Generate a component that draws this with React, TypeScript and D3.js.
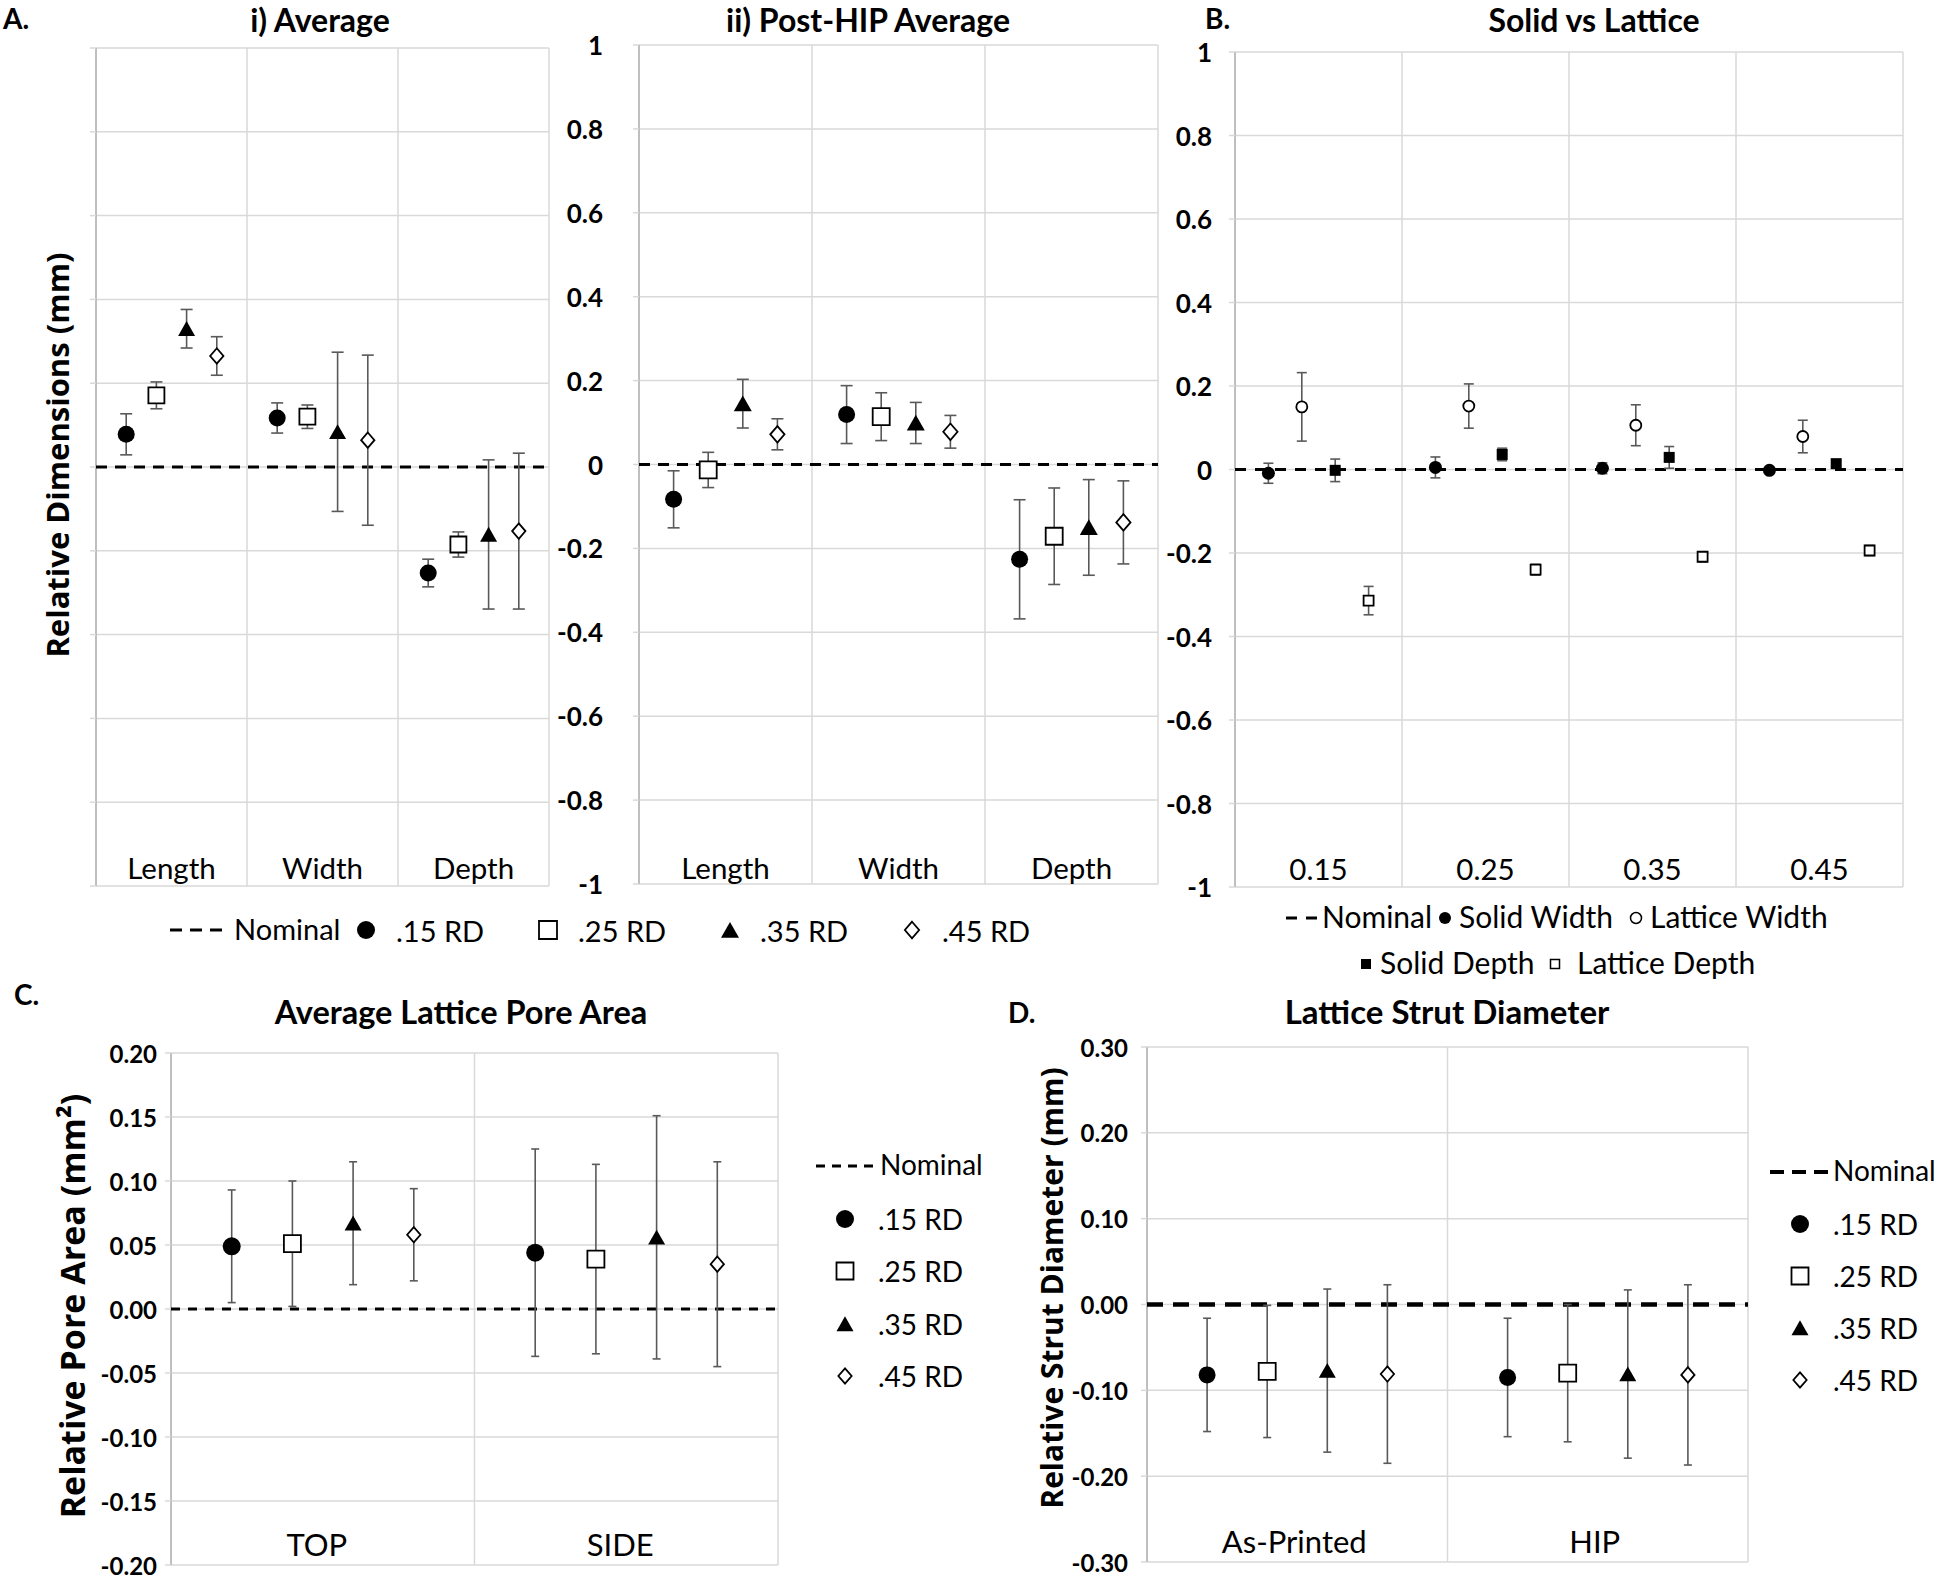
import React, { useEffect, useRef } from "react";
import * as d3 from "d3";

// ---- data ----
const rdLabels = [".15 RD", ".25 RD", ".35 RD", ".45 RD"];
const dimCats = ["Length", "Width", "Depth"];

// A i) Average
const avg15 = [0.078, 0.117, -0.253];
const avg15Err = [0.049, 0.036, 0.033];
const avg25 = [0.171, 0.12, -0.185];
const avg25Err = [0.032, 0.028, 0.03];
const avg35 = [0.33, 0.084, -0.161];
const avg35Err = [0.046, 0.19, 0.178];
const avg45 = [0.265, 0.064, -0.153];
const avg45Err = [0.046, 0.203, 0.186];

// A ii) Post-HIP Average
const hip15 = [-0.083, 0.119, -0.226];
const hip15Err = [0.068, 0.069, 0.142];
const hip25 = [-0.013, 0.114, -0.171];
const hip25Err = [0.042, 0.057, 0.115];
const hip35 = [0.145, 0.099, -0.15];
const hip35Err = [0.058, 0.049, 0.114];
const hip45 = [0.072, 0.078, -0.138];
const hip45Err = [0.037, 0.039, 0.099];

// B Solid vs Lattice
const rdCats = ["0.15", "0.25", "0.35", "0.45"];
const solidLatticeLabels = ["Solid Width", "Lattice Width", "Solid Depth", "Lattice Depth"];
const solidWidth = [-0.009, 0.005, 0.003, -0.002];
const solidWidthErr = [0.024, 0.025, 0.013, 0.005];
const latticeWidth = [0.15, 0.152, 0.106, 0.079];
const latticeWidthErr = [0.082, 0.053, 0.049, 0.039];
const solidDepth = [-0.002, 0.036, 0.029, 0.014];
const solidDepthErr = [0.027, 0.015, 0.026, 0.006];
const latticeDepth = [-0.314, -0.24, -0.209, -0.194];
const latticeDepthErr = [0.034, 0.013, 0.012, 0.012];

// C Average Lattice Pore Area
const poreCats = ["TOP", "SIDE"];
const pore15 = [0.049, 0.044];
const pore15Err = [0.044, 0.081];
const pore25 = [0.051, 0.039];
const pore25Err = [0.049, 0.074];
const pore35 = [0.067, 0.056];
const pore35Err = [0.048, 0.095];
const pore45 = [0.058, 0.035];
const pore45Err = [0.036, 0.08];

// D Lattice Strut Diameter
const strutCats = ["As-Printed", "HIP"];
const strut15 = [-0.082, -0.085];
const strut15Err = [0.066, 0.069];
const strut25 = [-0.078, -0.08];
const strut25Err = [0.077, 0.08];
const strut35 = [-0.077, -0.081];
const strut35Err = [0.095, 0.098];
const strut45 = [-0.081, -0.082];
const strut45Err = [0.104, 0.105];

const dimTicks = d3.range(-5, 6).map((i) => i / 5);
const poreTicks = d3.range(-4, 5).map((i) => i / 20);
const strutTicks = d3.range(-3, 4).map((i) => i / 10);

const FONT = "Lato, 'Open Sans', sans-serif";
const AXIS_FONT = "'Open Sans', Lato, sans-serif";
const slots = [0.2, 0.4, 0.6, 0.8];

const hyphen = (s: string) => s.replace("\u2212", "-");

const markerPath = (shape: string, s: number) => {
  const p = d3.path();
  if (shape === "circle") {
    p.moveTo(s, 0);
    p.arc(0, 0, s, 0, 2 * Math.PI);
  } else if (shape === "square") {
    p.rect(-s, -s, 2 * s, 2 * s);
  } else if (shape === "triangle") {
    p.moveTo(0, -0.9 * s);
    p.lineTo(s, 0.85 * s);
    p.lineTo(-s, 0.85 * s);
    p.closePath();
  } else {
    p.moveTo(0, -1.1 * s);
    p.lineTo(0.95 * s, 0);
    p.lineTo(0, 1.1 * s);
    p.lineTo(-0.95 * s, 0);
    p.closePath();
  }
  return p.toString();
};

const drawMarker = (g: any, shape: string, s: number, filled: boolean, x: number, y: number, sw = 1.8) => {
  g.append("path")
    .attr("d", markerPath(shape, s))
    .attr("transform", `translate(${x},${y})`)
    .attr("fill", filled ? "#000" : "#fff")
    .attr("stroke", "#000")
    .attr("stroke-width", filled ? 0 : sw);
};

const drawPanel = (svg: any, o: any) => {
  const g = svg.append("g");
  const y = d3.scaleLinear().domain(o.domain).range([o.bottom, o.top]);
  const x = d3.scaleLinear().domain([0, o.cats.length]).range([o.left, o.right]);

  // horizontal gridlines
  g.selectAll(".hg")
    .data(o.ticks)
    .enter()
    .append("line")
    .attr("x1", o.left)
    .attr("x2", o.right)
    .attr("y1", (d: number) => y(d))
    .attr("y2", (d: number) => y(d))
    .attr("stroke", "#d9d9d9")
    .attr("stroke-width", 1.5);

  // vertical category separators
  g.selectAll(".vg")
    .data(d3.range(o.cats.length + 1))
    .enter()
    .append("line")
    .attr("x1", (d: number) => x(d))
    .attr("x2", (d: number) => x(d))
    .attr("y1", o.top)
    .attr("y2", o.bottom)
    .attr("stroke", (d: number) => (d === 0 ? "#bfbfbf" : "#d9d9d9"))
    .attr("stroke-width", (d: number) => (d === 0 ? 2 : 1.5));

  // small ticks
  g.selectAll(".tk")
    .data(o.ticks)
    .enter()
    .append("line")
    .attr("x1", o.left - 6)
    .attr("x2", o.left)
    .attr("y1", (d: number) => y(d))
    .attr("y2", (d: number) => y(d))
    .attr("stroke", "#d9d9d9")
    .attr("stroke-width", 1.5);

  if (o.tickX) {
    g.selectAll(".tl")
      .data(o.ticks)
      .enter()
      .append("text")
      .attr("x", o.tickX)
      .attr("y", (d: number) => y(d))
      .attr("text-anchor", "end")
      .attr("dominant-baseline", "central")
      .attr("font-family", FONT)
      .attr("font-weight", "bold")
      .attr("font-size", o.tickSize)
      .text((d: number) => hyphen(o.fmt(d)));
  }

  g.selectAll(".cl")
    .data(o.cats)
    .enter()
    .append("text")
    .attr("x", (_d: string, i: number) => x(i + 0.5) + (o.catShift || 0))
    .attr("y", o.catY)
    .attr("text-anchor", "middle")
    .attr("dominant-baseline", "central")
    .attr("font-family", FONT)
    .attr("font-size", o.catSize)
    .text((d: string) => d);

  // nominal line
  g.append("line")
    .attr("x1", o.left)
    .attr("x2", o.right)
    .attr("y1", y(0))
    .attr("y2", y(0))
    .attr("stroke", "#000")
    .attr("stroke-width", o.nomWidth)
    .attr("stroke-dasharray", o.nomDash);

  o.series.forEach((s: any, si: number) => {
    s.values.forEach((v: number, ci: number) => {
      const cx = x(ci + slots[si]);
      const e = s.errs[ci];
      const eb = g.append("g").attr("stroke", "#595959").attr("stroke-width", 1.6);
      eb.append("line").attr("x1", cx).attr("x2", cx).attr("y1", y(v + e)).attr("y2", y(v - e));
      [v + e, v - e].forEach((t) =>
        eb.append("line").attr("x1", cx - o.cap).attr("x2", cx + o.cap).attr("y1", y(t)).attr("y2", y(t))
      );
    });
  });
  o.series.forEach((s: any, si: number) => {
    s.values.forEach((v: number, ci: number) => {
      drawMarker(g, s.shape, s.size, s.filled, x(ci + slots[si]), y(v), o.markerStroke || 1.8);
    });
  });
};

const text = (svg: any, x: number, y: number, str: string, size: number, opts: any = {}) =>
  svg
    .append("text")
    .attr("x", x)
    .attr("y", y)
    .attr("text-anchor", opts.anchor || "start")
    .attr("dominant-baseline", "central")
    .attr("font-family", opts.family || FONT)
    .attr("font-weight", opts.bold ? "bold" : "normal")
    .attr("font-size", size)
    .attr("transform", opts.rotate ? `rotate(-90,${x},${y})` : null)
    .text(str);

const rdShapes = ["circle", "square", "triangle", "diamond"];
const rdFilled = [true, false, true, false];

const App = () => {
  const ref = useRef<SVGSVGElement>(null);

  useEffect(() => {
    const svg = d3.select(ref.current);
    svg.selectAll("*").remove();
    svg.append("rect").attr("width", 1944).attr("height", 1581).attr("fill", "#fff");

    const fmtDim = (d: number) => d3.format("~g")(+d.toFixed(1));
    const fmt2 = d3.format(".2f");
    const mkSeries = (vals: number[][], errs: number[][], sizes: number[]) =>
      vals.map((v, i) => ({ values: v, errs: errs[i], shape: rdShapes[i], filled: rdFilled[i], size: sizes[i] }));

    // A i)
    drawPanel(svg, {
      left: 96, right: 549, top: 48, bottom: 886, domain: [-1, 1], ticks: dimTicks,
      cats: dimCats, catY: 867, catSize: 29.5, nomWidth: 3, nomDash: "11,8", cap: 6,
      series: mkSeries([avg15, avg25, avg35, avg45], [avg15Err, avg25Err, avg35Err, avg45Err], [8.5, 8, 8.5, 7]),
    });
    // A ii)
    drawPanel(svg, {
      left: 639, right: 1158, top: 45, bottom: 884, domain: [-1, 1], ticks: dimTicks,
      tickX: 603, tickSize: 26, fmt: fmtDim,
      cats: dimCats, catY: 867, catSize: 29.5, nomWidth: 3, nomDash: "11,8", cap: 6,
      series: mkSeries([hip15, hip25, hip35, hip45], [hip15Err, hip25Err, hip35Err, hip45Err], [8.5, 8.5, 9, 7.5]),
    });
    // B
    drawPanel(svg, {
      left: 1235, right: 1903, top: 52, bottom: 887, domain: [-1, 1], ticks: dimTicks,
      tickX: 1212, tickSize: 26, fmt: fmtDim,
      cats: rdCats, catY: 868, catSize: 29.5, nomWidth: 3, nomDash: "11,9", cap: 5, markerStroke: 1.8,
      series: [
        { values: solidWidth, errs: solidWidthErr, shape: "circle", filled: true, size: 6.5 },
        { values: latticeWidth, errs: latticeWidthErr, shape: "circle", filled: false, size: 5.5 },
        { values: solidDepth, errs: solidDepthErr, shape: "square", filled: true, size: 5.5 },
        { values: latticeDepth, errs: latticeDepthErr, shape: "square", filled: false, size: 5 },
      ],
    });
    // C
    drawPanel(svg, {
      left: 171, right: 778, top: 1053, bottom: 1565, domain: [-0.2, 0.2], ticks: poreTicks,
      tickX: 157, tickSize: 24, fmt: fmt2,
      cats: poreCats, catY: 1544, catSize: 31, catShift: -6, nomWidth: 3, nomDash: "9,8", cap: 4,
      series: mkSeries([pore15, pore25, pore35, pore45], [pore15Err, pore25Err, pore35Err, pore45Err], [9, 8.5, 8.5, 7]),
    });
    // D
    drawPanel(svg, {
      left: 1147, right: 1748, top: 1047, bottom: 1562, domain: [-0.3, 0.3], ticks: strutTicks,
      tickX: 1128, tickSize: 24, fmt: fmt2,
      cats: strutCats, catY: 1541, catSize: 31, catShift: -3, nomWidth: 4.5, nomDash: "16,10", cap: 4,
      series: mkSeries([strut15, strut25, strut35, strut45], [strut15Err, strut25Err, strut35Err, strut45Err], [8.5, 8.5, 8.5, 7]),
    });

    // titles and panel letters
    text(svg, 3, 18, "A.", 28, { bold: true });
    text(svg, 320, 19, "i) Average", 32, { bold: true, anchor: "middle" });
    text(svg, 868, 19, "ii) Post-HIP Average", 32, { bold: true, anchor: "middle" });
    text(svg, 1205, 18, "B.", 28, { bold: true });
    text(svg, 1594, 19, "Solid vs Lattice", 32, { bold: true, anchor: "middle" });
    text(svg, 14, 994, "C.", 28, { bold: true });
    text(svg, 461, 1011, "Average Lattice Pore Area", 32.5, { bold: true, anchor: "middle" });
    text(svg, 1008, 1012, "D.", 28, { bold: true });
    text(svg, 1447, 1011, "Lattice Strut Diameter", 33, { bold: true, anchor: "middle" });

    // y axis titles
    text(svg, 57, 455, "Relative Dimensions (mm)", 31, { bold: true, anchor: "middle", rotate: true, family: AXIS_FONT });
    text(svg, 72, 1306, "Relative Pore Area (mm²)", 34, { bold: true, anchor: "middle", rotate: true, family: AXIS_FONT });
    text(svg, 1051, 1288, "Relative Strut Diameter (mm)", 30, { bold: true, anchor: "middle", rotate: true, family: AXIS_FONT });

    // legend A
    const legA = svg.append("g");
    const ay = 930;
    legA.append("line").attr("x1", 170).attr("x2", 228).attr("y1", ay).attr("y2", ay)
      .attr("stroke", "#000").attr("stroke-width", 3).attr("stroke-dasharray", "12,8");
    text(legA, 234, ay - 2, "Nominal", 29);
    rdLabels.forEach((lab, i) => {
      const mx = 366 + i * 182;
      drawMarker(legA, rdShapes[i], [9, 9, 9, 7.5][i], rdFilled[i], mx, ay);
      text(legA, mx + 30, ay, lab, 29);
    });

    // legend B
    const legB = svg.append("g");
    legB.append("line").attr("x1", 1286).attr("x2", 1317).attr("y1", 918).attr("y2", 918)
      .attr("stroke", "#000").attr("stroke-width", 3).attr("stroke-dasharray", "11,9");
    text(legB, 1322, 916, "Nominal", 30);
    const bLeg = [
      { x: 1445, y: 918, shape: "circle", filled: true, s: 6 },
      { x: 1636, y: 918, shape: "circle", filled: false, s: 5.5 },
      { x: 1366, y: 964, shape: "square", filled: true, s: 5 },
      { x: 1555, y: 964, shape: "square", filled: false, s: 4.5 },
    ];
    bLeg.forEach((m, i) => {
      drawMarker(legB, m.shape, m.s, m.filled, m.x, m.y, 1.5);
      text(legB, m.x + (i === 3 ? 22 : 14), m.y - 2, solidLatticeLabels[i], 30);
    });

    // legends C and D
    const sideLegend = (dx0: number, dx1: number, ny: number, mx: number, ys: number[], nomW: number, dash: string) => {
      const lg = svg.append("g");
      lg.append("line").attr("x1", dx0).attr("x2", dx1).attr("y1", ny).attr("y2", ny)
        .attr("stroke", "#000").attr("stroke-width", nomW).attr("stroke-dasharray", dash);
      text(lg, dx1 + 5, ny - 2, "Nominal", 28);
      rdLabels.forEach((lab, i) => {
        drawMarker(lg, rdShapes[i], [9, 8.5, 8.5, 7][i], rdFilled[i], mx, ys[i]);
        text(lg, mx + 33, ys[i], lab, 28);
      });
    };
    sideLegend(816, 875, 1166, 845, [1219, 1271, 1324, 1376], 3, "9,7");
    sideLegend(1770, 1828, 1172, 1800, [1224, 1276, 1328, 1380], 4, "14,8");
  }, []);

  return (
    <svg
      ref={ref}
      width={1944}
      height={1581}
      style={{ position: "absolute", left: 0, top: 0, background: "#fff" }}
    />
  );
};

export default App;
